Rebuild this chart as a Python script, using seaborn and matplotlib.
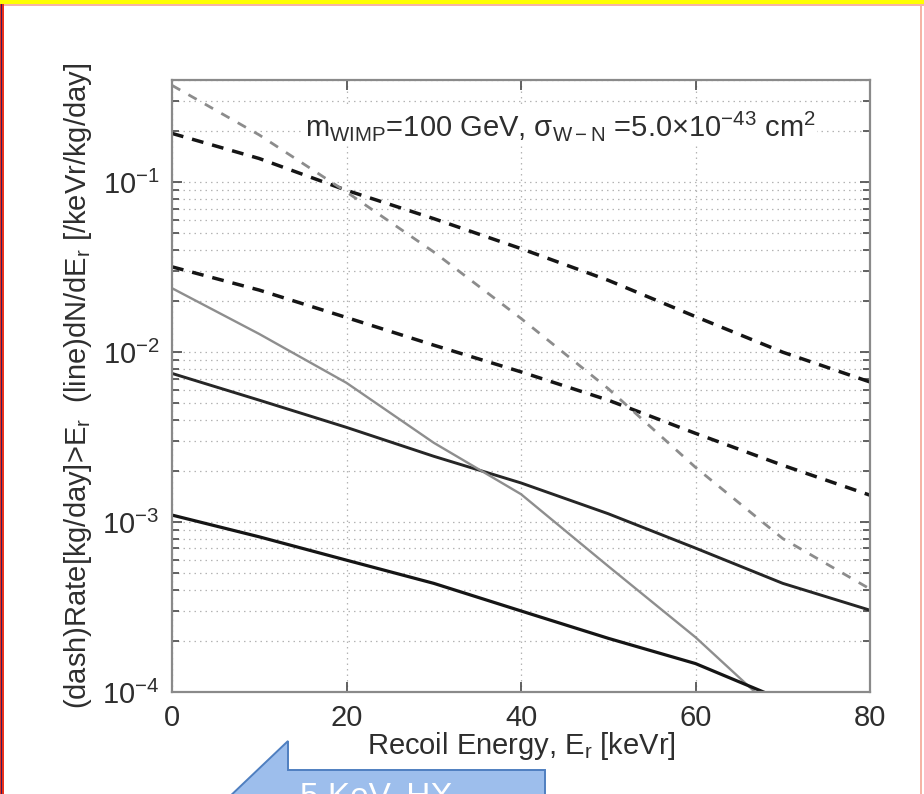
import numpy as np
import pandas as pd
import matplotlib
matplotlib.use("Agg")
import matplotlib.pyplot as plt
import seaborn as sns
from matplotlib.patches import Polygon, Rectangle
from matplotlib.ticker import LogLocator, NullFormatter, FixedLocator

# Recoil energies [keVr] at which the curves were tabulated
energy = [0, 10, 20, 30, 40, 50, 60, 70, 80]

# Integrated rate above threshold [/kg/day] (dashed curves)
rate_heavy = [0.194, 0.138, 0.0897, 0.0611, 0.0407, 0.0265, 0.0162, 0.0100, 0.00668]
rate_light = [0.0318, 0.0232, 0.0160, 0.0110, 0.00766, 0.00522, 0.00333, 0.00216, 0.00144]
rate_steep = [0.372, 0.190, 0.0877, 0.0389, 0.0158, 0.0061, 0.0021, 0.00080, 0.000404]

# Differential spectrum dN/dE [/keVr/kg/day] (solid curves)
spec_heavy = [0.0075, 0.00522, 0.00361, 0.00244, 0.0017, 0.00112, 0.000703, 0.000436, 0.000303]
energy_steep = [0, 10, 20, 30, 40, 50, 60, 67]
spec_steep = [0.0238, 0.0128, 0.0066, 0.00293, 0.00146, 0.00055, 0.00021, 0.000098]
energy_light = [0, 10, 20, 30, 40, 50, 60, 68]
spec_light = [0.0011, 0.000819, 0.000597, 0.000436, 0.000300, 0.000207, 0.000147, 0.000099]

x_ticks = [0, 20, 40, 60, 80]

sns.set_style("ticks")
plt.rcParams["font.family"] = ["Liberation Sans", "DejaVu Sans"]
plt.rcParams["mathtext.fontset"] = "custom"
plt.rcParams["mathtext.rm"] = "Liberation Sans"
plt.rcParams["mathtext.it"] = "Liberation Sans:italic"
plt.rcParams["mathtext.default"] = "regular"

TXT = "#2e2e2e"
FS = 21

fig = plt.figure(figsize=(9.24, 7.94), dpi=100)
fig.patch.set_facecolor("white")
ax = fig.add_axes([172 / 924, 1 - 692 / 794, 698 / 924, 612 / 794])

curves = [
    (energy, rate_heavy, "#151515", 2.5, (3.4, 2.6)),
    (energy, rate_light, "#151515", 2.5, (3.4, 2.6)),
    (energy, rate_steep, "#8c8c8c", 2.0, (3.4, 3.4)),
    (energy, spec_heavy, "#262626", 2.1, None),
    (energy_steep, spec_steep, "#8e8e8e", 1.7, None),
    (energy_light, spec_light, "#151515", 2.3, None),
]
for xs, ys, col, lw, dash in curves:
    df = pd.DataFrame({"E": xs, "v": ys})
    line_kw = dict(dashes=dash) if dash else {}
    sns.lineplot(data=df, x="E", y="v", ax=ax, color=col, linewidth=lw,
                 solid_capstyle="butt", dash_capstyle="butt", **line_kw)

ax.set_yscale("log")
ax.set_xlim(0, 80)
ax.set_ylim(1e-4, 0.4)
ax.xaxis.set_major_locator(FixedLocator(x_ticks))
ax.yaxis.set_major_locator(LogLocator(base=10, numticks=10))
ax.yaxis.set_minor_locator(LogLocator(base=10, subs=np.arange(2, 10), numticks=20))
ax.yaxis.set_minor_formatter(NullFormatter())

grid_kw = dict(color="#b4b4b4", linestyle=(0, (1.2, 3.2)), linewidth=0.9)
ax.grid(True, which="major", axis="both", **grid_kw)
ax.grid(True, which="minor", axis="y", **grid_kw)
ax.set_axisbelow(True)

for s in ax.spines.values():
    s.set_color("#8a8a8a")
    s.set_linewidth(1.6)
ax.tick_params(which="both", direction="in", top=True, right=True,
               color="#555555", labelcolor=TXT, labelsize=FS)
ax.tick_params(which="major", length=7, width=1.3, pad=9)
ax.tick_params(which="minor", length=5, width=1.3)

ax.set_xlabel(r"Recoil Energy, E$_r$ [keVr]", fontsize=FS, color=TXT, labelpad=-2)
ax.set_ylabel(r"(dash)Rate[kg/day]>E$_r$  (line)dN/dE$_r$ [/keVr/kg/day]",
              fontsize=FS, color=TXT, labelpad=6)

ax.text(0.19, 0.925,
        r"m$_{\rm WIMP}$=100 GeV, $\sigma_{\rm W-N}$ =5.0$\times$10$^{-43}$ cm$^2$",
        transform=ax.transAxes, ha="left", va="center", fontsize=FS, color=TXT,
        bbox=dict(facecolor="white", edgecolor="none", pad=1.5), zorder=3)

# Slide frame: yellow top band, red left edge, thin pink borders
W, H = 924.0, 794.0
fig.patches.append(Rectangle((0, 1 - 4 / H), 1, 4 / H, transform=fig.transFigure,
                             facecolor="#ffff00", edgecolor="none", zorder=5))
fig.patches.append(Rectangle((0, 1 - 5.5 / H), 1, 1.5 / H, transform=fig.transFigure,
                             facecolor="#f6b4a6", edgecolor="none", zorder=5))
fig.patches.append(Rectangle((0, 0), 4 / W, 1 - 4 / H, transform=fig.transFigure,
                             facecolor="#e8321e", edgecolor="none", zorder=5))
fig.patches.append(Rectangle((1.2 / W, 0), 1.2 / W, 1 - 4 / H, transform=fig.transFigure,
                             facecolor="#3a1a60", edgecolor="none", zorder=6))
fig.patches.append(Rectangle((920 / W, 0), 1.5 / W, 1 - 4 / H, transform=fig.transFigure,
                             facecolor="#f6b4a6", edgecolor="none", zorder=5))

# Callout arrow at the bottom of the slide
arrow_px = [(288, 741), (288, 770), (545, 770), (545, 800), (226, 800)]
arrow = Polygon([(x / W, 1 - y / H) for x, y in arrow_px], closed=True,
                transform=fig.transFigure, facecolor="#9dbeec", edgecolor="#4f7fc0",
                linewidth=1.4, zorder=7)
fig.patches.append(arrow)
fig.text(300 / W, 1 - 782 / H, "5 KeV, HX", ha="left", va="top", fontsize=24,
         color="white", zorder=8)

fig.savefig("out.png", dpi=100, facecolor="white")
